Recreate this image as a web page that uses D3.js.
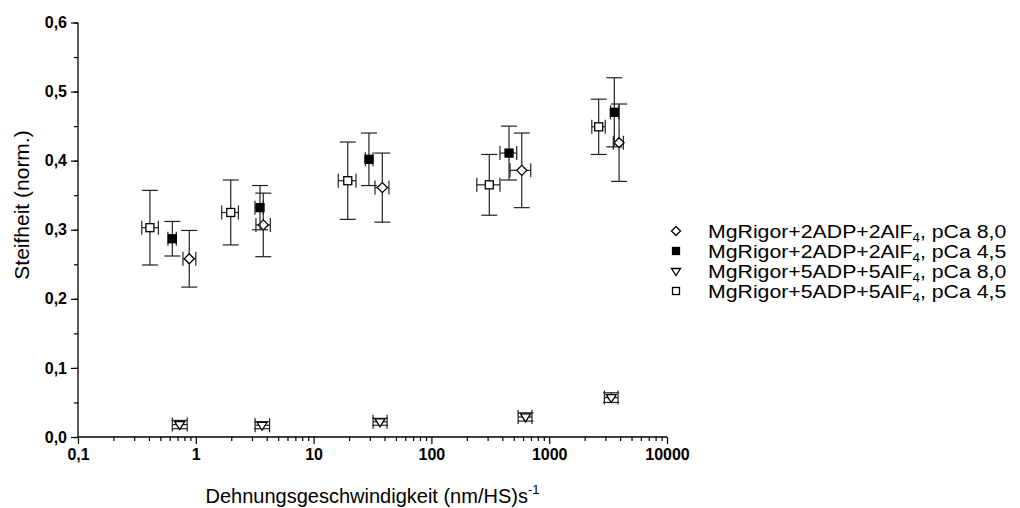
<!DOCTYPE html>
<html>
<head>
<meta charset="utf-8">
<script src="https://cdn.jsdelivr.net/npm/d3@7"></script>
<style>
  html, body { margin: 0; padding: 0; background: #fff; }
  svg { display: block; }
  text { font-family: "Liberation Sans", Arial, sans-serif; fill: #000; }
</style>
</head>
<body>
<svg id="chart" width="1020" height="508"></svg>
<script>
// ---------- data ----------
const seriesNames = [
  "MgRigor+2ADP+2AlF|4|, pCa 8,0",
  "MgRigor+2ADP+2AlF|4|, pCa 4,5",
  "MgRigor+5ADP+5AlF|4|, pCa 8,0",
  "MgRigor+5ADP+5AlF|4|, pCa 4,5"
];
const seriesSymbols = ["diamond", "squareFilled", "triangleDown", "squareOpen"];

// 2ADP pCa 8,0 (open diamonds)
const xA    = [0.88, 3.74, 38.3, 585, 3920];
const xA_lo = [0.778, 3.24, 33.2, 465, 3500];
const xA_hi = [1.0, 4.29, 43.6, 697, 4260];
const yA    = [0.258, 0.307, 0.361, 0.386, 0.426];
const eA    = [0.041, 0.046, 0.050, 0.054, 0.056];

// 2ADP pCa 4,5 (filled squares)
const xB    = [0.632, 3.51, 29.5, 456, 3570];
const xB_lo = [0.58, 3.18, 27.5, 382, 3320];
const xB_hi = [0.683, 3.74, 31.9, 530, 3890];
const yB    = [0.287, 0.332, 0.402, 0.411, 0.470];
const eB    = [0.025, 0.032, 0.038, 0.039, 0.050];

// 5ADP pCa 8,0 (open triangles down)
const xC    = [0.73, 3.65, 36.6, 630, 3360];
const xC_lo = [0.632, 3.19, 32, 545, 2940];
const xC_hi = [0.845, 4.23, 42, 714, 3840];
const yC    = [0.018, 0.017, 0.022, 0.029, 0.057];
const eC    = [0.006, 0.005, 0.005, 0.006, 0.007];

// 5ADP pCa 4,5 (open squares)
const xD    = [0.408, 1.98, 19.5, 310, 2630];
const xD_lo = [0.348, 1.66, 16.2, 243, 2300];
const xD_hi = [0.481, 2.30, 22.9, 382, 2990];
const yD    = [0.303, 0.325, 0.371, 0.365, 0.449];
const eD    = [0.054, 0.047, 0.056, 0.044, 0.040];

const xTickValues = [0.1, 1, 10, 100, 1000, 10000];
const xTickLabels = ["0,1", "1", "10", "100", "1000", "10000"];
const yTickValues = [0, 0.1, 0.2, 0.3, 0.4, 0.5, 0.6];
const yTickLabels = ["0,0", "0,1", "0,2", "0,3", "0,4", "0,5", "0,6"];

const xTitle = "Dehnungsgeschwindigkeit (nm/HS)s";
const xTitleSup = "-1";
const yTitle = "Steifheit (norm.)";

// ---------- layout ----------
const L = 78, R = 667, T = 22.5, B = 437;
const svg = d3.select("#chart");

const x = d3.scaleLog().domain([0.1, 10000]).range([L, R]);
const y = d3.scaleLinear().domain([0, 0.6]).range([B, T]);

const tickFont = "bold 16px 'Liberation Sans', Arial, sans-serif";

// Y axis
const yMinor = d3.range(0, 0.601, 0.05);
const yAxisMinor = d3.axisLeft(y).tickValues(yMinor).tickSize(4).tickFormat("");
svg.append("g").attr("transform", `translate(${L},0)`).call(yAxisMinor)
  .call(g => g.select(".domain").remove())
  .call(g => g.selectAll("line").attr("stroke", "#000").attr("stroke-width", 1.2));
const yAxis = d3.axisLeft(y).tickValues(yTickValues).tickSize(7).tickPadding(4)
  .tickFormat((d, i) => yTickLabels[i]);
svg.append("g").attr("transform", `translate(${L},0)`).call(yAxis)
  .call(g => g.select(".domain").attr("d", `M0,${T}V${B}`).attr("stroke", "#000").attr("stroke-width", 1.3))
  .call(g => g.selectAll("line").attr("stroke", "#000").attr("stroke-width", 1.2))
  .call(g => g.selectAll("text").style("font", tickFont).attr("fill", "#000"));

// X axis
const xMinor = [];
for (let p = -1; p < 4; p++) for (let k = 2; k <= 9; k++) xMinor.push(k * Math.pow(10, p));
const xAxisMinor = d3.axisBottom(x).tickValues(xMinor).tickSize(4).tickFormat("");
svg.append("g").attr("transform", `translate(0,${B})`).call(xAxisMinor)
  .call(g => g.select(".domain").remove())
  .call(g => g.selectAll("line").attr("stroke", "#000").attr("stroke-width", 1.2));
const xAxis = d3.axisBottom(x).tickValues(xTickValues).tickSize(7).tickPadding(5)
  .tickFormat((d, i) => xTickLabels[i]);
svg.append("g").attr("transform", `translate(0,${B})`).call(xAxis)
  .call(g => g.select(".domain").attr("d", `M${L},0H${R}`).attr("stroke", "#000").attr("stroke-width", 1.3))
  .call(g => g.selectAll("line").attr("stroke", "#000").attr("stroke-width", 1.2))
  .call(g => g.selectAll("text").style("font", tickFont).attr("fill", "#000"));

// Axis titles
const xt = svg.append("text").attr("x", (L + R) / 2).attr("y", 503)
  .attr("text-anchor", "middle").style("font-size", "20px");
xt.append("tspan").text(xTitle);
xt.append("tspan").attr("dy", -9).style("font-size", "13px").text(xTitleSup);

svg.append("text")
  .attr("transform", `translate(29,205) rotate(-90)`)
  .attr("text-anchor", "middle").style("font-size", "21px").text(yTitle);

// ---------- symbols ----------
function drawSymbol(g, type, cx, cy, s) {
  const h = s / 2;
  if (type === "diamond") {
    g.append("path").attr("d", `M${cx},${cy - h - 1}L${cx + h + 1},${cy}L${cx},${cy + h + 1}L${cx - h - 1},${cy}Z`)
      .attr("fill", "#fff").attr("stroke", "#000").attr("stroke-width", 1.3);
  } else if (type === "squareFilled") {
    g.append("rect").attr("x", cx - h).attr("y", cy - h).attr("width", s).attr("height", s)
      .attr("fill", "#000").attr("stroke", "#000").attr("stroke-width", 1.3);
  } else if (type === "squareOpen") {
    g.append("rect").attr("x", cx - h).attr("y", cy - h).attr("width", s).attr("height", s)
      .attr("fill", "#fff").attr("stroke", "#000").attr("stroke-width", 1.3);
  } else if (type === "triangleDown") {
    g.append("path").attr("d", `M${cx - h - 1},${cy - h + 1}L${cx + h + 1},${cy - h + 1}L${cx},${cy + h + 1}Z`)
      .attr("fill", "#fff").attr("stroke", "#000").attr("stroke-width", 1.3);
  }
}

const series = [
  { xs: xA, lo: xA_lo, hi: xA_hi, ys: yA, es: eA, sym: seriesSymbols[0] },
  { xs: xB, lo: xB_lo, hi: xB_hi, ys: yB, es: eB, sym: seriesSymbols[1] },
  { xs: xC, lo: xC_lo, hi: xC_hi, ys: yC, es: eC, sym: seriesSymbols[2] },
  { xs: xD, lo: xD_lo, hi: xD_hi, ys: yD, es: eD, sym: seriesSymbols[3] }
];

const cap = 8, capX = 7;
const plot = svg.append("g");
series.forEach(s => {
  const g = plot.append("g");
  s.xs.forEach((xv, i) => {
    const cx = x(xv), cy = y(s.ys[i]);
    const y1 = y(s.ys[i] + s.es[i]), y2 = y(s.ys[i] - s.es[i]);
    const x1 = x(s.lo[i]), x2 = x(s.hi[i]);
    const eg = g.append("g").attr("stroke", "#222").attr("stroke-width", 1.2).attr("fill", "none");
    eg.append("line").attr("x1", cx).attr("x2", cx).attr("y1", y1).attr("y2", y2);
    eg.append("line").attr("x1", cx - cap).attr("x2", cx + cap).attr("y1", y1).attr("y2", y1);
    eg.append("line").attr("x1", cx - cap).attr("x2", cx + cap).attr("y1", y2).attr("y2", y2);
    eg.append("line").attr("x1", x1).attr("x2", x2).attr("y1", cy).attr("y2", cy);
    eg.append("line").attr("x1", x1).attr("x2", x1).attr("y1", cy - capX).attr("y2", cy + capX);
    eg.append("line").attr("x1", x2).attr("x2", x2).attr("y1", cy - capX).attr("y2", cy + capX);
  });
  s.xs.forEach((xv, i) => drawSymbol(g, s.sym, x(xv), y(s.ys[i]), 8));
});

// ---------- legend ----------
const legY0 = 231, legDY = 20, legSymX = 676, legTextX = 708;
seriesNames.forEach((name, i) => {
  const cy = legY0 + i * legDY;
  const g = svg.append("g");
  drawSymbol(g, seriesSymbols[i], legSymX, cy, 7);
  const parts = name.split("|");
  const t = g.append("text")
    .attr("transform", `translate(${legTextX},${cy + 7}) scale(1.12,1)`)
    .style("font-size", "19px");
  t.append("tspan").text(parts[0]);
  t.append("tspan").attr("dy", 4).style("font-size", "12px").text(parts[1]);
  t.append("tspan").attr("dy", -4).text(parts[2]);
});
</script>
</body>
</html>
